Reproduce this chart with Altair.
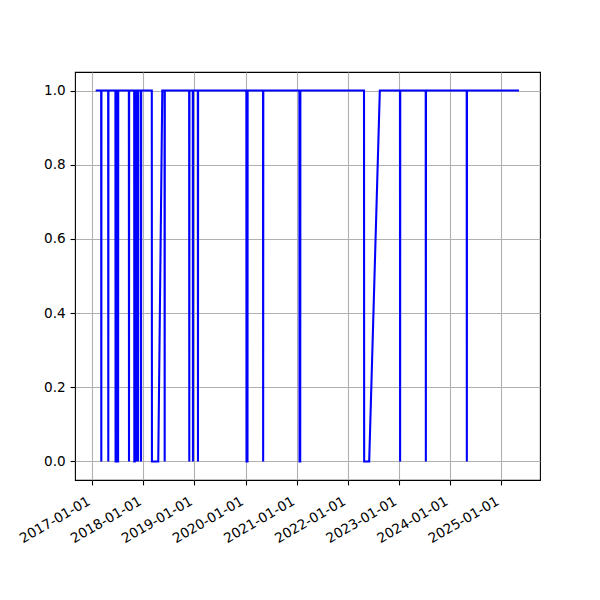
import altair as alt
import pandas as pd

# Time series of a 0/1 indicator
dates = [
    "2017-01-25",
    "2017-03-05", "2017-03-06", "2017-03-07",
    "2017-04-24", "2017-04-25", "2017-04-26",
    "2017-06-15", "2017-06-16", "2017-06-19", "2017-06-20",
    "2017-07-01", "2017-07-02", "2017-07-04", "2017-07-05",
    "2017-09-19", "2017-09-20", "2017-09-21",
    "2017-10-27", "2017-10-28", "2017-10-31", "2017-11-01",
    "2017-11-13", "2017-11-14", "2017-11-15",
    "2017-11-23", "2017-11-24", "2017-11-25",
    "2017-12-14", "2017-12-15", "2017-12-16",
    "2018-03-02", "2018-03-03", "2018-04-17", "2018-05-16",
    "2018-06-01", "2018-06-02", "2018-06-03",
    "2018-11-24", "2018-11-25", "2018-11-26",
    "2018-12-20", "2018-12-21", "2018-12-22",
    "2019-01-25", "2019-01-26", "2019-01-27",
    "2020-01-07", "2020-01-08", "2020-01-15", "2020-01-16",
    "2020-05-05", "2020-05-06", "2020-05-07",
    "2021-01-20", "2021-01-21", "2021-01-26", "2021-01-27",
    "2022-04-27", "2022-04-28", "2022-06-03", "2022-08-18",
    "2023-01-09", "2023-01-10", "2023-01-11",
    "2023-07-12", "2023-07-13", "2023-07-14",
    "2024-04-30", "2024-05-01", "2024-05-02",
    "2025-05-09",
]
values = [
    1,
    1, 0, 1,
    1, 0, 1,
    1, 0, 0, 1,
    1, 0, 0, 1,
    1, 0, 1,
    1, 0, 0, 1,
    1, 0, 1,
    1, 0, 1,
    1, 0, 1,
    1, 0, 0, 1,
    1, 0, 1,
    1, 0, 1,
    1, 0, 1,
    1, 0, 1,
    1, 0, 0, 1,
    1, 0, 1,
    1, 0, 0, 1,
    1, 0, 0, 1,
    1, 0, 1,
    1, 0, 1,
    1, 0, 1,
    1,
]
tick_years = [2017, 2018, 2019, 2020, 2021, 2022, 2023, 2024, 2025]
y_ticks = [0.0, 0.2, 0.4, 0.6, 0.8, 1.0]

df = pd.DataFrame({"date": dates, "value": values})

x_axis = alt.Axis(
    values=[alt.DateTime(year=y, month=1, date=1, utc=True) for y in tick_years],
    labelExpr="utcFormat(datum.value, '%Y-%m-%d')",
    labelAngle=-30,
    labelAlign="right",
    labelBaseline="top",
    labelOffset=-7,
    labelPadding=9,
    title=None,
)
y_axis = alt.Axis(values=y_ticks, format=".1f", title=None, labelPadding=4.9,
                  labelBaseline="middle")

chart = (
    alt.Chart(df)
    .mark_line(color="#0000ff", strokeWidth=2.08)
    .encode(
        x=alt.X("date:T",
                scale=alt.Scale(type="utc", domain=[
                    alt.DateTime(year=2016, month=8, date=30, utc=True),
                    alt.DateTime(year=2025, month=10, date=6, utc=True)]),
                axis=x_axis),
        y=alt.Y("value:Q",
                scale=alt.Scale(domain=[-0.05, 1.05], nice=False, zero=False),
                axis=y_axis),
    )
    .properties(
        width=465,
        height=408,
        autosize=alt.AutoSizeParams(type="none"),
        padding={"left": 67, "top": 64, "right": 52, "bottom": 112},
    )
    .configure_view(stroke="black", strokeWidth=1.1)
    .configure_axis(
        labelFont="DejaVu Sans",
        labelFontSize=13.6,
        labelColor="black",
        tickColor="black",
        tickSize=4.9,
        tickWidth=1.1,
        domain=False,
        grid=True,
        gridColor="#b0b0b0",
        gridWidth=1.1,
        labelOverlap=False,
    )
)

chart.save("out.html", embed_options={"renderer": "svg", "actions": False})
